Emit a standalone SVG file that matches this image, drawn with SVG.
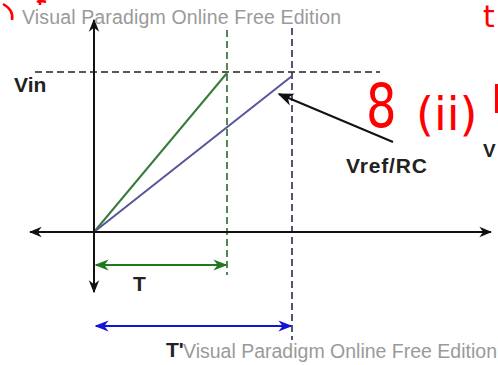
<svg xmlns="http://www.w3.org/2000/svg" width="498" height="365" viewBox="0 0 498 365">
<style>
.wm{font-family:"Liberation Sans",Arial,sans-serif;font-size:19.5px;fill:#9a9a9a}
.lbl{font-family:"Liberation Sans",Arial,sans-serif;font-weight:bold;font-size:21px;fill:#222}
.ax{stroke:#111;stroke-width:2;fill:none}
.dash{stroke-width:1.6;stroke-dasharray:7 4;fill:none}
.red{font-family:"DejaVu Sans",sans-serif;fill:#f00}
</style>
<defs>
<marker id="ak" viewBox="0 0 10 10" refX="9" refY="5" markerWidth="13" markerHeight="13" orient="auto-start-reverse" markerUnits="userSpaceOnUse"><path d="M0,1 L10,5 L0,9 L3,5 z" fill="#111"/></marker>
<marker id="ag" viewBox="0 0 10 10" refX="9" refY="5" markerWidth="14" markerHeight="14" orient="auto-start-reverse" markerUnits="userSpaceOnUse"><path d="M0,1 L10,5 L0,9 L3,5 z" fill="#1f7a1f"/></marker>
<marker id="ab" viewBox="0 0 10 10" refX="9" refY="5" markerWidth="14" markerHeight="14" orient="auto-start-reverse" markerUnits="userSpaceOnUse"><path d="M0,1 L10,5 L0,9 L3,5 z" fill="#1414d4"/></marker>
<marker id="ap" viewBox="0 0 10 10" refX="9" refY="5" markerWidth="16" markerHeight="16" orient="auto" markerUnits="userSpaceOnUse"><path d="M0,1 L10,5 L0,9 L3,5 z" fill="#111"/></marker>
</defs>
<rect width="498" height="365" fill="#fff"/>
<g id="connectors">
<path id="guide-vin" class="dash" stroke="#222" d="M35,72 H380"/>
<path id="guide-t" class="dash" stroke="#2a6a2a" d="M227,30 V275"/>
<path id="guide-t2" class="dash" stroke="#2a2a50" d="M292,28 V340"/>
<path id="ramp-green" d="M94,232 L227,73" stroke="#3a7a3a" stroke-width="2" fill="none"/>
<path id="ramp-blue" d="M94,232 L292,76" stroke="#55559a" stroke-width="2" fill="none"/>
<path id="y-axis" class="ax" d="M94,292 V20" marker-start="url(#ak)" marker-end="url(#ak)"/>
<path id="x-axis" class="ax" d="M30,232 H491" marker-start="url(#ak)" marker-end="url(#ak)"/>
<path id="dim-t" d="M96,265 H226" stroke="#1f7a1f" stroke-width="2" fill="none" marker-start="url(#ag)" marker-end="url(#ag)"/>
<path id="dim-t2" d="M96,326 H291" stroke="#1414d4" stroke-width="2" fill="none" marker-start="url(#ab)" marker-end="url(#ab)"/>
<path id="pointer" d="M393,142 L279,94" stroke="#111" stroke-width="2" fill="none" marker-end="url(#ap)"/>
</g>
<g id="label-vin"><text class="lbl" x="14" y="92">Vin</text></g>
<g id="label-vref"><text class="lbl" x="346" y="173" textLength="81">Vref/RC</text></g>
<g id="label-t"><text class="lbl" x="133" y="291">T</text></g>
<g id="label-t2"><text class="lbl" x="166" y="357">T'</text></g>
<g id="watermarks">
<text class="wm" x="22" y="24" textLength="319">Visual Paradigm Online Free Edition</text>
<text class="wm" x="183" y="358" textLength="314">Visual Paradigm Online Free Edition</text>
</g>
<g id="annotations">
<path d="M3,4 Q14,10 12,20" stroke="#f00" stroke-width="2.5" fill="none"/>
<path d="M37,2 Q40,0 46,2 M40,0 V5" stroke="#f00" stroke-width="2.5" fill="none"/>
<text class="red" x="366" y="127" font-size="60" transform="translate(366,0) scale(0.8,1) translate(-366,0)">8</text>
<text class="red" x="416" y="130" font-size="46">(ii)</text>
<text class="red" x="483" y="27" font-size="30">t</text>
<rect x="495" y="84" width="3" height="29" fill="#f00"/>
<text x="483" y="157" font-family="Liberation Sans,Arial,sans-serif" font-weight="bold" font-size="19" fill="#222">V</text>
</g>
</svg>
